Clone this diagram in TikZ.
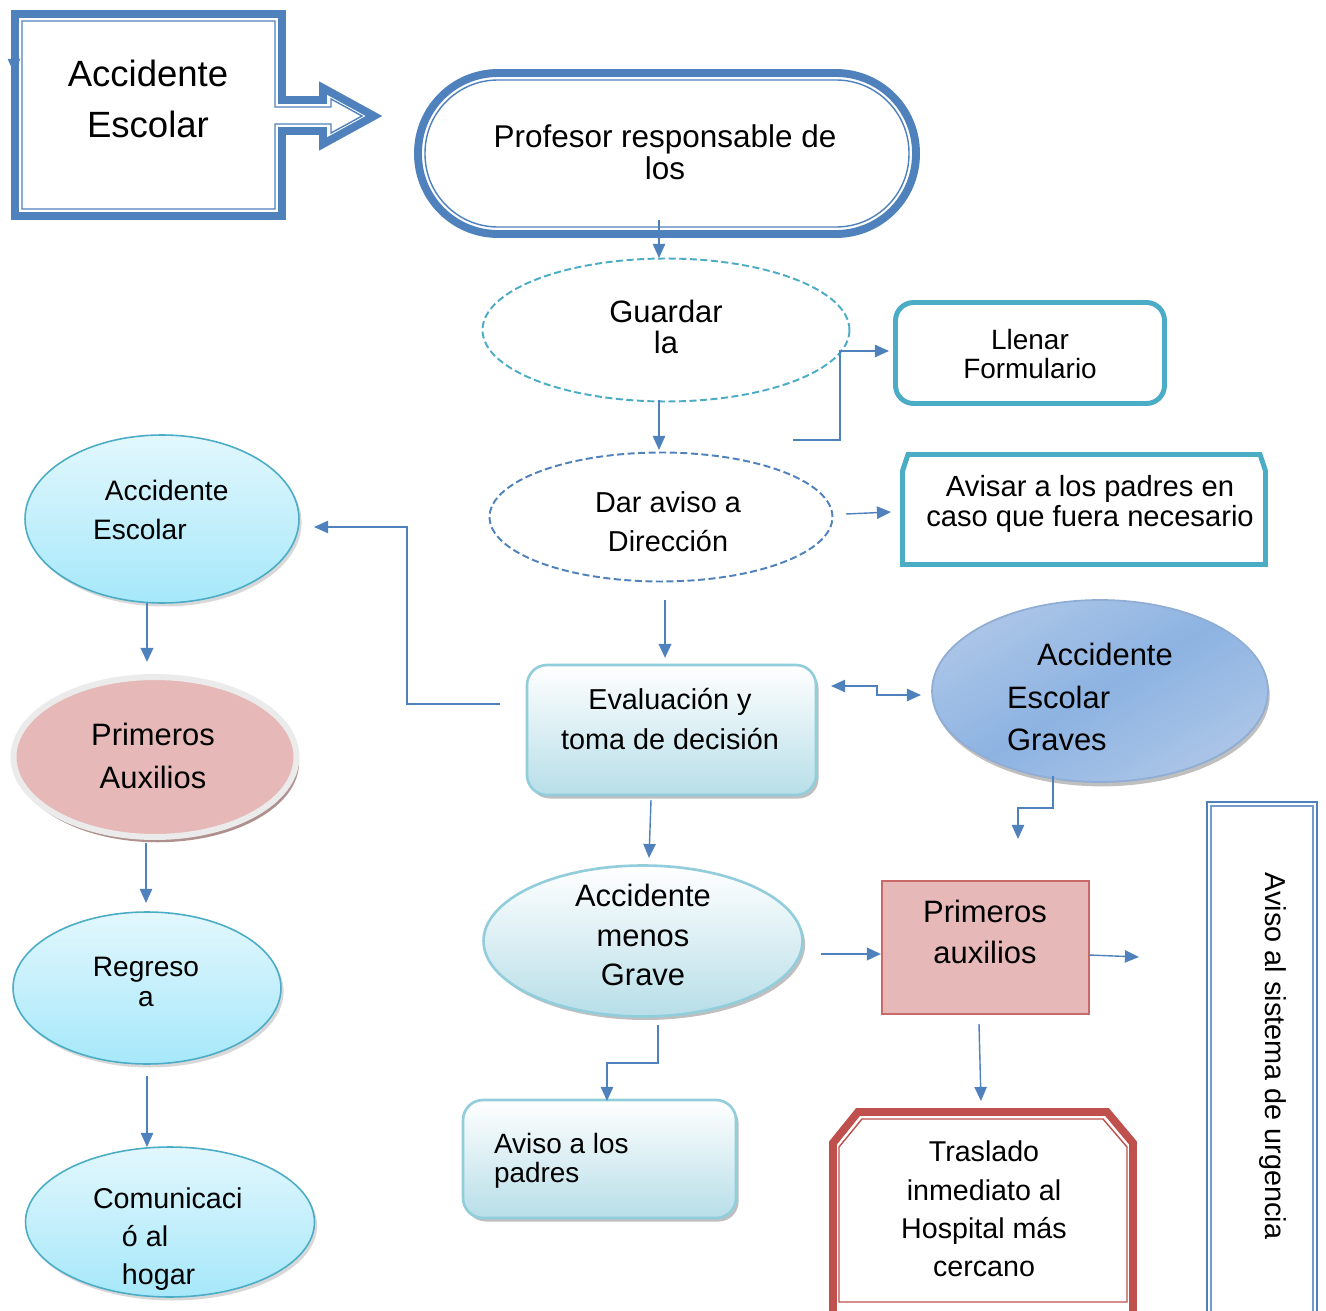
\documentclass[tikz,border=0pt]{standalone}
\usepackage{fontspec}
\setmainfont{Liberation Sans}
\usetikzlibrary{arrows.meta,shapes.geometric,shadows}
\definecolor{accblue}{HTML}{4F81BD}
\definecolor{accteal}{HTML}{4BACC6}
\definecolor{lbborder}{HTML}{92CDDC}
\definecolor{lbfill}{HTML}{B7DEE8}
\definecolor{cyantop}{HTML}{E2F7FD}
\definecolor{cyanbot}{HTML}{A6E8FA}
\definecolor{pinkfill}{HTML}{E6B9B8}
\definecolor{redb}{HTML}{C0504D}
\definecolor{gravtop}{HTML}{ABC5E7}
\definecolor{gravbot}{HTML}{8DB3E2}
\definecolor{gravline}{HTML}{8FADD5}
\definecolor{shadowred}{HTML}{A88583}
\definecolor{rimgray}{HTML}{EBEBEB}
\newcommand\myfs[2]{\fontsize{#1pt}{#2pt}\selectfont}
\tikzset{
  conn/.style={draw=accblue, line width=0.8pt, -{Triangle[length=8pt,width=7pt]}},
  connb/.style={conn, line width=1.5pt},
  txt/.style={inner sep=0pt, outer sep=0pt, align=center, text=black},
  shp/.style={inner sep=0pt, outer sep=0pt},
  grayshadow/.style={drop shadow={shadow xshift=1.5pt, shadow yshift=-2pt, fill=black!45, opacity=0.55}},
  lbbox/.style={shp, rectangle, rounded corners=0.4cm, draw=lbborder, line width=1.5pt, top color=white, bottom color=lbfill, grayshadow},
  lbell/.style={shp, ellipse, draw=lbborder, line width=1.5pt, top color=white, bottom color=lbfill, grayshadow},
  cyanell/.style={shp, ellipse, draw=accteal, line width=0.9pt, top color=cyantop, bottom color=cyanbot, drop shadow={shadow xshift=1.5pt, shadow yshift=-2pt, fill=black!30, opacity=0.5}},
}
\begin{document}
\begin{tikzpicture}[x=0.02cm,y=-0.02cm]
\clip (0,0) rectangle (1326,1311);
\fill[white] (0,0) rectangle (1326,1311);

% ---------- top-left callout
\draw[accblue, line width=4.5pt, line join=miter] (15,14) -- (282,14) -- (282,100) -- (323,100) -- (323,88) -- (374,116) -- (323,144) -- (323,131) -- (282,131) -- (282,216) -- (15,216) -- cycle;
\draw[accblue, line width=0.8pt] (22,21) -- (275,21) -- (275,107) -- (331,107) -- (331,99) -- (362,116) -- (331,133) -- (331,124) -- (275,124) -- (275,209) -- (22,209) -- cycle;
\node[txt, font=\myfs{20.8}{28.9}] (tl) at (148,99) {Accidente\\Escolar};
\coordinate (tlA) at (14,14);
\coordinate (tlB) at (14,73);
\draw[conn] (tlA) -- (tlB);

% ---------- Profesor stadium
\draw[accblue, line width=4.5pt] [rounded corners=1.6cm] (418,73) rectangle (916,234);
\draw[accblue, line width=0.8pt] [rounded corners=1.46cm] (425,80) rectangle (909,227);
\node[txt, font=\myfs{17.9}{18.1}] (prof) at (665,152) {Profesor responsable de\\los};

% ---------- Guardar la
\node[shp, ellipse, draw=accteal, line width=1.1pt, dash pattern=on 4pt off 2pt, minimum width=7.34cm, minimum height=2.86cm] (guard) at (666,330) {};
\node[txt, font=\myfs{17.6}{18.1}] (guardt) at (666,327) {Guardar\\la};

% ---------- Llenar Formulario
\node[shp, rectangle, rounded corners=0.36cm, draw=accteal, line width=2.8pt, minimum width=5.38cm, minimum height=2.02cm] (llen) at (1030,353) {};
\node[txt, font=\myfs{15.9}{17}] (llent) at (1030,354) {Llenar\\Formulario};

% ---------- Avisar a los padres
\draw[accteal, line width=2.8pt, line join=miter] (902.5,471) -- (908,454.5) -- (1260,454.5) -- (1265.5,471) -- (1265.5,564.5) -- (902.5,564.5) -- cycle;
\node[txt, font=\myfs{16.6}{17}] (avis) at (1090,504) {Avisar a los padres en\\caso que fuera necesario};

% ---------- Dar aviso
\node[shp, ellipse, draw=accblue, line width=1.1pt, dash pattern=on 4pt off 2pt, minimum width=6.86cm, minimum height=2.58cm] (dar) at (661,517) {};
\node[txt, font=\myfs{16.4}{22.1}] (dart) at (668,522) {Dar aviso a\\Dirección};

% ---------- Evaluación
\node[lbbox, minimum width=5.78cm, minimum height=2.6cm] (eval) at (671.5,730) {};
\node[txt, font=\myfs{16.4}{22.7}] (evalt) at (670,719) {Evaluación y\\toma de decisión};

% ---------- Graves
\node[shp, ellipse, draw=gravline, line width=1pt, left color=gravtop, right color=gravtop, middle color=gravbot, shading angle=30, drop shadow={shadow xshift=1pt, shadow yshift=-2.5pt, fill=black!50, opacity=0.5}, minimum width=6.72cm, minimum height=3.64cm] (grav) at (1100,691) {};
\node[txt, align=left, anchor=west, font=\myfs{17.6}{24.4}] (gravt) at (1007,697) {\hspace*{0.6cm}Accidente\\Escolar\\Graves};

% ---------- menos Grave
\node[lbell, minimum width=6.38cm, minimum height=3.02cm] (meno) at (643,941) {};
\node[txt, font=\myfs{17.6}{22.7}] (menot) at (643,935) {Accidente\\menos\\Grave};

% ---------- Primeros auxilios (rect)
\node[shp, rectangle, fill=pinkfill, draw=redb!85, line width=0.9pt, minimum width=4.14cm, minimum height=2.66cm] (prim) at (985.5,947.5) {};
\node[txt, font=\myfs{17.6}{23.8}] (primt) at (985,932) {Primeros\\auxilios};

% ---------- Traslado
\draw[redb, line width=4.5pt, line join=miter] (833,1143) -- (858,1112) -- (1107,1112) -- (1133,1143) -- (1133,1320) -- (833,1320) -- cycle;
\draw[redb, line width=0.8pt] (839,1147) -- (862,1119) -- (1103,1119) -- (1127,1147) -- (1127,1302) -- (839,1302) -- cycle;
\node[txt, font=\myfs{16.3}{21.8}] (tras) at (984,1209) {Traslado\\inmediato al\\Hospital más\\cercano};

% ---------- Aviso a los padres
\node[lbbox, minimum width=5.46cm, minimum height=2.36cm] (avp) at (599.5,1159) {};
\node[txt, align=left, anchor=west, font=\myfs{15.9}{16.4}] (avpt) at (494,1161) {Aviso a los\\padres};

% ---------- Aviso al sistema de urgencia
\draw[accblue, line width=1.4pt] (1207,802) rectangle (1317,1320);
\draw[accblue!80, line width=0.6pt] (1211,806) rectangle (1313,1320);
\node[txt, rotate=-90, font=\myfs{16.4}{20}] (sist) at (1273,1056) {Aviso al sistema de urgencia};

% ---------- left column
\node[cyanell, minimum width=5.48cm, minimum height=3.36cm] (lae) at (162,519) {};
\node[txt, align=left, anchor=west, font=\myfs{16}{22.7}] (laet) at (93,510) {\hspace*{0.24cm}Accidente\\Escolar};

\node[shp, ellipse, fill=pinkfill, draw=rimgray, line width=3.4pt, drop shadow={shadow xshift=1.5pt, shadow yshift=-3pt, fill=shadowred, opacity=0.9}, minimum width=5.66cm, minimum height=3.2cm] (lpa) at (155,757) {};
\node[txt, font=\myfs{17.6}{24.4}] (lpat) at (153,756) {Primeros\\Auxilios};

\node[cyanell, minimum width=5.36cm, minimum height=3.04cm] (lre) at (147,988) {};
\node[txt, font=\myfs{16}{17.6}] (lret) at (146,982) {Regreso\\a};

\node[cyanell, minimum width=5.78cm, minimum height=3.0cm] (lco) at (170,1222) {};
\node[txt, align=left, anchor=west, font=\myfs{16.3}{21.8}] (lcot) at (93,1239) {Comunicaci\\\hspace*{0.58cm}ó al\\\hspace*{0.58cm}hogar};

% ---------- connectors
\coordinate (c1a) at (659,220); \coordinate (c1b) at (659,258);
\draw[conn] (c1a) -- (c1b);
\coordinate (c2a) at (659,400); \coordinate (c2b) at (659,450);
\draw[conn] (c2a) -- (c2b);
\coordinate (c3a) at (793,440); \coordinate (c3b) at (889,351);
\draw[conn] (c3a) -- (840,440) -- (840,351) -- (c3b);
\coordinate (c4a) at (846,514); \coordinate (c4b) at (891,512);
\draw[conn] (c4a) -- (c4b);
\coordinate (c5a) at (665,600); \coordinate (c5b) at (665,658);
\draw[connb] (c5a) -- (c5b);
\coordinate (c6a) at (500,704); \coordinate (c6b) at (314,527);
\draw[conn] (c6a) -- (407,704) -- (407,527) -- (c6b);
\coordinate (c7a) at (831,686); \coordinate (c7b) at (921,695);
\draw[conn, {Triangle[length=8pt,width=7pt]}-{Triangle[length=8pt,width=7pt]}] (c7a) -- (877,686) -- (877,695) -- (c7b);
\coordinate (c8a) at (651,800); \coordinate (c8b) at (649,858);
\draw[conn] (c8a) -- (c8b);
\coordinate (c9a) at (1053,776); \coordinate (c9b) at (1018,839);
\draw[conn] (c9a) -- (1053,808) -- (1018,808) -- (c9b);
\coordinate (c10a) at (821,954); \coordinate (c10b) at (881,954);
\draw[connb] (c10a) -- (c10b);
\coordinate (c11a) at (1089,955); \coordinate (c11b) at (1139,957);
\draw[conn] (c11a) -- (c11b);
\coordinate (c12a) at (979,1024); \coordinate (c12b) at (981,1101);
\draw[conn] (c12a) -- (c12b);
\coordinate (c13a) at (658,1025); \coordinate (c13b) at (607,1101);
\draw[conn] (c13a) -- (658,1063) -- (607,1063) -- (c13b);
\coordinate (c14a) at (147,603); \coordinate (c14b) at (147,662);
\draw[connb] (c14a) -- (c14b);
\coordinate (c15a) at (146,843); \coordinate (c15b) at (146,903);
\draw[conn] (c15a) -- (c15b);
\coordinate (c16a) at (147,1076); \coordinate (c16b) at (147,1147);
\draw[conn] (c16a) -- (c16b);
\end{tikzpicture}
\end{document}
